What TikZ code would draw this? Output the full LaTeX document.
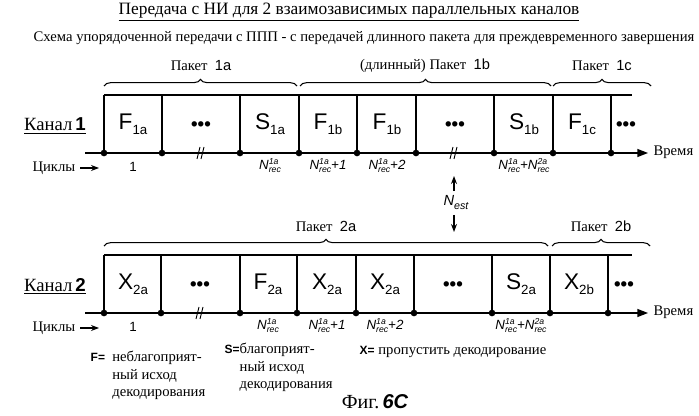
\documentclass[tikz,border=0pt]{standalone}
\usepackage{fontspec}
\setmainfont{Liberation Serif}
\newfontfamily\arial{Liberation Sans}
\newfontfamily\tnr{Liberation Serif}
\usetikzlibrary{decorations.pathreplacing,arrows.meta}
\newcommand\sbx[2]{#1\raisebox{-4pt}{\fontsize{10}{10}\selectfont #2}}
\newcommand\Nsup[1]{{\itshape N}\makebox[0pt][l]{\raisebox{3.5pt}{\fontsize{6.5}{6.5}\selectfont #1}}\raisebox{-2.5pt}{\fontsize{6.5}{6.5}\selectfont rec}}
\begin{document}
\begin{tikzpicture}[x=0.75pt,y=-0.75pt,
  cell/.style={font=\arial\fontsize{17}{17}\selectfont},
  lab/.style={font=\tnr\fontsize{11}{13}\selectfont},
  cyc/.style={font=\arial\itshape\fontsize{10}{10}\selectfont},
  brc/.style={decorate,decoration={brace,amplitude=5pt},line width=0.8pt},
  ln/.style={line width=1pt},
  dot/.style={circle,fill,inner sep=0pt,minimum width=3.5pt,minimum height=5pt}]
\useasboundingbox (0,0) rectangle (699,416);
\node[font=\tnr\fontsize{13}{14}\selectfont] (title) at (349,12) {\underline{Передача с НИ для 2 взаимозависимых параллельных каналов}};
\node[lab] (sub) at (364,38) {Схема упорядоченной передачи с ППП - с передачей длинного пакета для преждевременного завершения};
\foreach \y/\yt/\ch/\xs in
 {153/95/1/{104,162,240,299,357,416,494,553,611},
  313/255/2/{104,161,240,297,356,414,492,550,608}}{
  \coordinate (a\ch s) at (85,\y);
  \coordinate (a\ch e) at (648,\y);
  \draw[ln,-{Triangle[length=8pt,width=6pt]}] (a\ch s) -- (a\ch e);
  \node[lab,anchor=west,inner sep=1pt] (t\ch) at (652,\y-1) {Время};
  \draw[ln] (104,\yt) -- (632,\yt);
  \foreach \x in \xs { \draw[ln] (\x,\yt) -- (\x,\y); \node[dot] at (\x,\y) {}; }
  \node[font=\tnr\fontsize{14}{14}\selectfont] (k\ch) at (55,\yt+31) {\underline{Канал\,{\arial\bfseries\ch}}};
  \node[lab,anchor=east] (c\ch) at (80,\y+15) {Циклы};
  \draw[-{Stealth[length=6pt]},line width=0.9pt] (c\ch.east) -- ++(19,0);
}
\foreach \x/\a/\b in {133/F/1a,270/S/1a,328/F/1b,387/F/1b,524/S/1b,582/F/1c}
  \node[cell] at (\x,124) {\sbx{\a}{\b}};
\foreach \x/\a/\b in {133/X/2a,268/F/2a,327/X/2a,385/X/2a,521/S/2a,579/X/2b}
  \node[cell] at (\x,284) {\sbx{\a}{\b}};
\foreach \x/\y in {201/126,455/126,626/126,200/286,453/286,624/286}
  \node[font=\arial\bfseries\fontsize{14}{14}\selectfont] at (\x,\y) {•••};
\foreach \x/\y in {201/153,454/153,200/313}{
  \draw[line width=0.7pt] (\x-4,\y+6) .. controls (\x-2,\y) .. (\x-1,\y-6);
  \draw[line width=0.7pt] (\x,\y+6) .. controls (\x+2,\y) .. (\x+3,\y-6);}
\foreach \x/\y/\t in {270/166/{\Nsup{1a}},328/166/{\Nsup{1a}+1},387/166/{\Nsup{1a}+2},524/166/{\Nsup{1a}+\Nsup{2a}},
  268/326/{\Nsup{1a}},327/326/{\Nsup{1a}+1},385/326/{\Nsup{1a}+2},521/326/{\Nsup{1a}+\Nsup{2a}}}
  \node[cyc] at (\x,\y) {\t};
\node[font=\arial\fontsize{10}{10}\selectfont] at (133,167) {1};
\node[font=\arial\fontsize{10}{10}\selectfont] at (133,327) {1};
\foreach \a/\b/\y/\l/\t/\n in {104/297/80/201/{Пакет}/1a,300/551/80/425/{(длинный) Пакет}/1b,553/651/80/602/{Пакет}/1c,
  104/548/240/326/{Пакет}/2a,552/650/240/601/{Пакет}/2b}{
  \draw[brc] (\a,\y+6) -- (\b,\y+6);
  \node[lab] at (\l,\y-14) {\t\ \ {\arial\n}};}
\node[cyc,font=\arial\itshape\fontsize{11}{11}\selectfont] (nest) at (456,203) {N\raisebox{-3pt}{\fontsize{8}{8}\selectfont est}};
\coordinate (n1) at (454,176); \coordinate (n2) at (454,232);
\draw[-{Stealth[length=6pt]},line width=0.9pt] (nest.north -| n1) -- (n1);
\draw[-{Stealth[length=6pt]},line width=0.9pt] (nest.south -| n2) -- (n2);
\node[lab,anchor=north west,align=left] (lf) at (86,345) {{\arial\bfseries\small F=}\ \ \begin{tabular}[t]{@{}l@{}}неблагоприят-\\ный исход\\декодирования\end{tabular}};
\node[lab,anchor=north west,align=left] (ls) at (220,337) {{\arial\bfseries\small S=}\begin{tabular}[t]{@{}l@{}}благоприят-\\ный исход\\декодирования\end{tabular}};
\node[lab,anchor=west] (lx) at (355,352) {{\arial\bfseries\small X=} пропустить декодирование};
\node[font=\tnr\fontsize{15}{15}\selectfont] (fig) at (375,402) {Фиг.\,{\arial\bfseries\itshape 6C}};
\end{tikzpicture}
\end{document}
